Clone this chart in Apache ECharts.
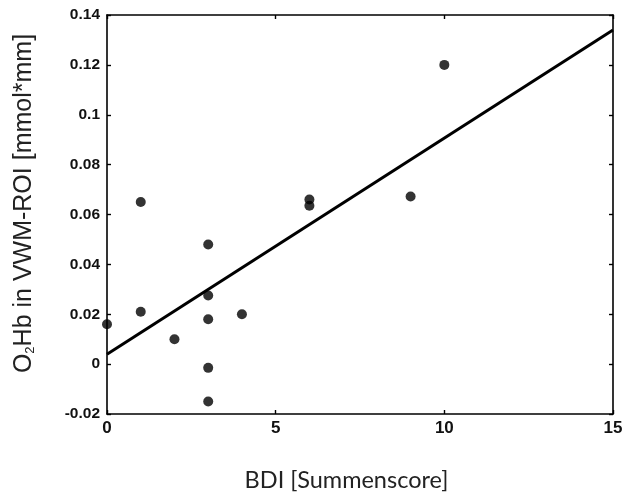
<!DOCTYPE html>
<html><head><meta charset="utf-8">
<script src="https://cdn.jsdelivr.net/npm/echarts@6/dist/echarts.min.js"></script>
<style>html,body{margin:0;padding:0;background:#fff}#c{width:622px;height:492px}</style>
</head><body><div id="c"></div>
<script>
const bdi = [0, 1, 1, 2, 3, 3, 3, 3, 3, 4, 6, 6, 9, 10];
const o2hb = [0.016, 0.021, 0.065, 0.010, 0.048, 0.0275, 0.018, -0.0015, -0.015, 0.020, 0.066, 0.0635, 0.0672, 0.120];
const fitX = [0, 15];
const fitY = [0.004, 0.134];
const xTicks = [0, 5, 10, 15];
const yTicks = [-0.02, 0, 0.02, 0.04, 0.06, 0.08, 0.1, 0.12, 0.14];

const chart = echarts.init(document.getElementById('c'), null, {renderer: 'canvas'});
const axisLine = {show: true, onZero: false, lineStyle: {color: '#000', width: 1.6}};
const tick = {show: true, inside: true, length: 4, lineStyle: {color: '#000', width: 1.4}};
chart.setOption({
  animation: false,
  grid: {left: 107, right: 9, top: 15, bottom: 78, containLabel: false, outerBoundsMode: 'none'},
  xAxis: [{
    type: 'value', min: 0, max: 15, interval: 5,
    axisLine: axisLine, axisTick: tick, splitLine: {show: false},
    axisLabel: {margin: 6, color: '#111', fontFamily: 'Liberation Sans', fontWeight: 'bold', fontSize: 17,
      formatter: v => xTicks.includes(v) ? String(v) : ''},
    name: 'BDI [Summenscore]', nameLocation: 'middle', nameGap: 54,
    nameTextStyle: {fontFamily: 'Lato', fontSize: 23.5, color: '#222', padding: [0, 0, 0, -27]}
  }, {
    type: 'value', min: 0, max: 15, interval: 5, position: 'top',
    axisLine: axisLine, axisTick: tick, axisLabel: {show: false}, splitLine: {show: false}
  }],
  yAxis: [{
    type: 'value', min: -0.02, max: 0.14, interval: 0.02,
    axisLine: axisLine, axisTick: tick, splitLine: {show: false},
    axisLabel: {margin: 7, color: '#111', fontFamily: 'Liberation Sans', fontWeight: 'bold', fontSize: 15.5,
      formatter: v => {
        const r = Math.round(v * 100) / 100;
        return yTicks.some(t => Math.abs(t - r) < 1e-9) ? String(r) : '';
      }},
    name: 'O{sub|2}Hb in VWM-ROI [mmol*mm]', nameLocation: 'middle', nameGap: 70, nameRotate: 90,
    nameTextStyle: {fontFamily: 'Liberation Sans', fontSize: 25, color: '#222', padding: [0, 0, 0, 22],
      rich: {sub: {fontFamily: 'Liberation Sans', fontSize: 13, color: '#222', verticalAlign: 'bottom', padding: [10, 0, 0, 0]}}}
  }, {
    type: 'value', min: -0.02, max: 0.14, interval: 0.02, position: 'right',
    axisLine: axisLine, axisTick: tick, axisLabel: {show: false}, splitLine: {show: false}
  }],
  series: [{
    type: 'line',
    data: fitX.map((x, i) => [x, fitY[i]]),
    symbol: 'none', lineStyle: {color: '#000', width: 3}, z: 2
  }, {
    type: 'scatter',
    data: bdi.map((x, i) => [x, o2hb[i]]),
    symbol: 'circle', symbolSize: 10, itemStyle: {color: '#000'}, z: 3
  }]
});
</script></body></html>
